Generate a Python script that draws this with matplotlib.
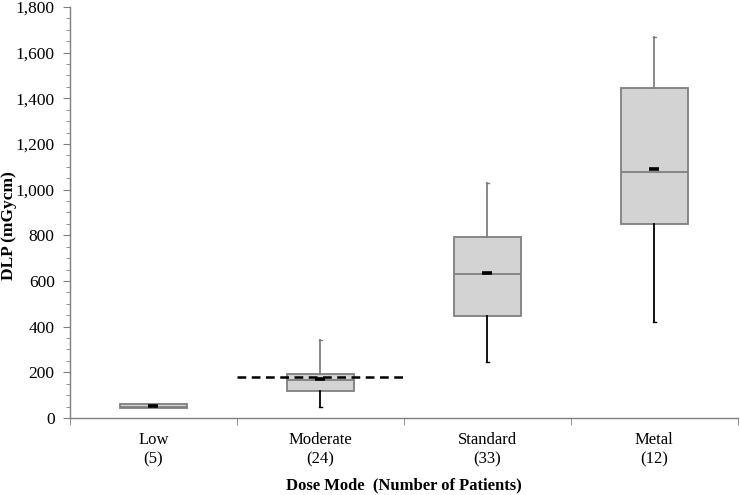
import matplotlib
matplotlib.use("Agg")
import matplotlib.pyplot as plt
from matplotlib.ticker import MultipleLocator, FuncFormatter, FixedLocator

categories = ["Low\n(5)", "Moderate\n(24)", "Standard\n(33)", "Metal\n(12)"]
whisker_low = [42, 50, 244, 420]
q1 = [42, 118, 448, 850]
median = [50, 166, 632, 1075]
q3 = [61, 193, 794, 1444]
whisker_high = [61, 341, 1031, 1670]
means = [52, 172, 635, 1089]
reference_level = 180  # dashed line over Moderate

plt.rcParams['font.family'] = ['Liberation Serif', 'DejaVu Serif']

fig = plt.figure(figsize=(7.4, 4.95), dpi=100)
ax = fig.add_axes([0.0946, 0.1556, 0.9024, 0.8304])

stats = []
for i in range(len(categories)):
    stats.append(dict(med=median[i], q1=q1[i], q3=q3[i],
                      whislo=whisker_low[i], whishi=whisker_high[i],
                      mean=means[i], fliers=[]))

positions = list(range(1, len(categories) + 1))
bp = ax.bxp(stats, positions=positions, widths=0.4, patch_artist=True,
            showmeans=True, showfliers=False,
            boxprops=dict(facecolor='#d3d3d3', edgecolor='#7f7f7f', linewidth=1.3),
            medianprops=dict(color='#7f7f7f', linewidth=1.3),
            whiskerprops=dict(color='black', linewidth=1.3),
            capprops=dict(color='black', linewidth=1.0),
            meanprops=dict(marker='_', markersize=6.5, markeredgewidth=2.6,
                           markeredgecolor='black', markerfacecolor='black'))
for cap in bp['caps']:
    xd = cap.get_xdata()
    c = (xd[0] + xd[1]) / 2
    cap.set_xdata([c - 0.008, c + 0.008])
# upper whiskers/caps grey
for j, w in enumerate(bp['whiskers']):
    if j % 2 == 1:
        w.set_color('#7f7f7f')
for j, c in enumerate(bp['caps']):
    if j % 2 == 1:
        c.set_color('#7f7f7f')
# Low category: whiskers coincide with box
bp['caps'][0].set_visible(False)
bp['caps'][1].set_visible(False)

# dashed reference line across the Moderate category
ax.plot([1.5, 2.5], [reference_level, reference_level], color='black',
        linestyle=(0, (3.5, 2.2)), linewidth=1.8, zorder=5)

ax.set_xlim(0.5, 4.5)
ax.set_ylim(0, 1800)
ax.yaxis.set_major_locator(MultipleLocator(200))
ax.yaxis.set_minor_locator(MultipleLocator(50))
ax.yaxis.set_major_formatter(FuncFormatter(lambda v, p: f"{int(v):,}"))

ax.set_xticks(positions)
ax.set_xticklabels(categories, fontsize=12, linespacing=1.3)
ax.xaxis.set_minor_locator(FixedLocator([0.5, 1.5, 2.5, 3.5, 4.5]))
ax.tick_params(axis='x', which='major', length=0, pad=10)
ax.tick_params(axis='x', which='minor', length=5, color='#7f7f7f')
ax.tick_params(axis='y', which='major', labelsize=12.5, length=5, color='#7f7f7f', pad=6)
ax.tick_params(axis='y', which='minor', length=3, color='#7f7f7f')

for s in ['top', 'right']:
    ax.spines[s].set_visible(False)
for s in ['left', 'bottom']:
    ax.spines[s].set_color('#7f7f7f')
    ax.spines[s].set_linewidth(1.0)

fig.text(9 / 740, 1 - 226 / 495, "DLP (mGycm)", fontsize=12.5, fontweight='bold',
         rotation=90, ha='center', va='center')
ax.set_xlabel("Dose Mode  (Number of Patients)", fontsize=12, fontweight='bold', labelpad=7)

fig.savefig("out.png", dpi=100)
